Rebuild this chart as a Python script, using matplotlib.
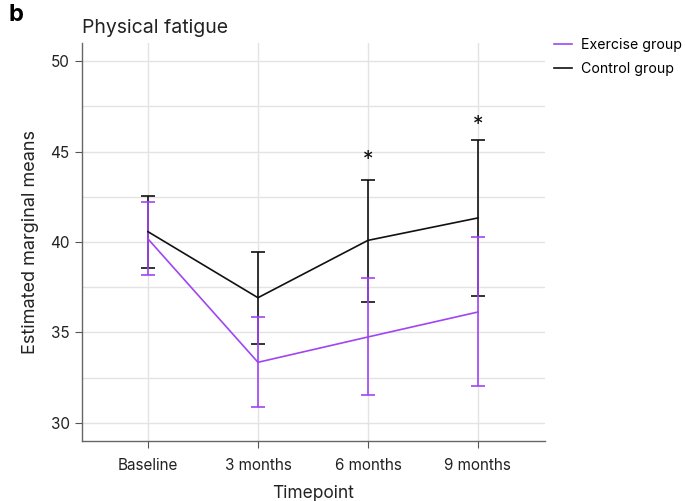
import matplotlib
matplotlib.use("Agg")
import matplotlib.pyplot as plt
from matplotlib.lines import Line2D
import numpy as np

plt.rcParams['font.family'] = ['Inter', 'DejaVu Sans']

timepoints = ["Baseline", "3 months", "6 months", "9 months"]
control_mean = [40.57, 36.92, 40.09, 41.33]
control_low = [38.55, 34.35, 36.67, 37.02]
control_high = [42.56, 39.46, 43.44, 45.64]
exercise_mean = [40.17, 33.35, 34.75, 36.13]
exercise_low = [38.20, 30.87, 31.55, 32.04]
exercise_high = [42.23, 35.86, 38.01, 40.28]
star_positions = [2, 3]
star_values = [44.55, 46.45]
yticks = [30, 35, 40, 45, 50]

purple = '#a045f2'
black = '#111111'

fig = plt.figure(figsize=(6.85, 5.01), dpi=100)
ax = fig.add_axes([82/685, 1-441/501, (545-82)/685, (441-43)/501])

x = np.arange(len(timepoints))

def draw(mean, low, high, color, label):
    mean = np.array(mean); low = np.array(low); high = np.array(high)
    ax.errorbar(x, mean, yerr=[mean-low, high-mean], color=color, lw=1.2,
                elinewidth=1.2, capsize=5, capthick=1.2, label=label, zorder=3)

draw(control_mean, control_low, control_high, black, "Control group")
draw(exercise_mean, exercise_low, exercise_high, purple, "Exercise group")

for p, v in zip(star_positions, star_values):
    ax.text(p, v, "*", ha='center', va='center', fontsize=15, color=black, zorder=4)

ax.set_xticks(x)
ax.set_xticklabels(timepoints)
ax.set_yticks(yticks)
ax.set_yticks([32.5, 37.5, 42.5, 47.5], minor=True)
ax.set_xlim(-0.6, 3.61)
ax.set_ylim(29, 51)
ax.grid(True, which='both', axis='y', color='#e3e3e3', lw=1.0, zorder=0)
ax.grid(True, which='major', axis='x', color='#e3e3e3', lw=1.0, zorder=0)
ax.tick_params(axis='y', which='minor', length=0)
ax.tick_params(which='major', length=5, color='#555555', labelsize=11, colors='#555555', labelcolor='#222222', pad=4)
ax.tick_params(axis='x', pad=7)
for s in ['top', 'right']:
    ax.spines[s].set_visible(False)
for s in ['left', 'bottom']:
    ax.spines[s].set_color('#666666')
    ax.spines[s].set_linewidth(1.0)

ax.set_xlabel("Timepoint", fontsize=12.5, labelpad=9, color='#222222')
ax.set_ylabel("Estimated marginal means", fontsize=13, labelpad=8, color='#222222')

fig.text(82/685, 1-28/501, "Physical fatigue", fontsize=14, ha='left', va='center', color='#222222')
fig.text(9/685, 1-15/501, "b", fontsize=17, fontweight='bold', ha='left', va='center')

handles = [Line2D([], [], color=purple, lw=1.2), Line2D([], [], color=black, lw=1.2)]
fig.legend(handles, ["Exercise group", "Control group"], loc='upper left',
           bbox_to_anchor=(548/685, 1-32/501), frameon=False, fontsize=10.2,
           handlelength=1.3, handletextpad=0.6, labelspacing=0.75, borderaxespad=0)

fig.savefig("out.png", dpi=100)
